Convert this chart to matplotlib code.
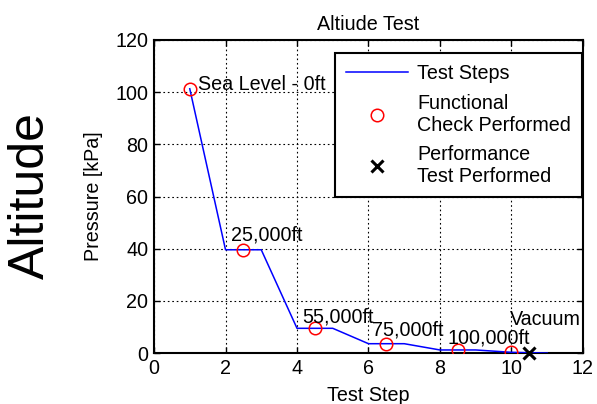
import numpy as np
import matplotlib
matplotlib.use("Agg")
import matplotlib.pyplot as plt

plt.rcParams['font.family'] = ['Liberation Sans', 'DejaVu Sans']

# pressure profile of the test sequence
step = [1, 2, 3, 4, 5, 6, 7, 8, 9, 10, 11]
pressure = [101.3, 39.6, 39.6, 9.5, 9.5, 3.6, 3.6, 1.2, 1.2, 0.3, 0.0]

# functional checks
check_step = [1, 2.5, 4.5, 6.5, 8.5, 10]
check_pressure = [101.3, 39.6, 9.5, 3.6, 1.2, 0.3]

# performance test
perf_step = [10.5]
perf_pressure = [0.0]

labels = ['Sea Level - 0ft', '25,000ft', '55,000ft', '75,000ft', '100,000ft', 'Vacuum']
label_x = [1.24, 2.15, 4.15, 6.1, 8.22, 9.96]
label_y = [101.0, 43.0, 11.6, 6.9, 3.7, 10.7]

fs = 14.2

fig = plt.figure(figsize=(5.97, 4.04), dpi=100)
ax = fig.add_axes([0.258, 0.126, 0.7185, 0.775])

ax.plot(step, pressure, color='blue', lw=1.1, label='Test Steps', zorder=3)
ax.plot(check_step, check_pressure, 'o', mfc='none', mec='red', ms=9, mew=1.1,
        label='Functional\nCheck Performed', zorder=4)
ax.plot(perf_step, perf_pressure, 'x', color='black', ms=9, mew=2.2,
        label='Performance\nTest Performed', zorder=5, clip_on=False)

for t, x, y in zip(labels, label_x, label_y):
    ax.text(x, y, t, fontsize=fs, va='baseline', ha='left', zorder=6)

ax.set_xlim(0, 12)
ax.set_ylim(0, 120)
ax.set_xticks(np.arange(0, 13, 2))
ax.set_yticks(np.arange(0, 121, 20))
ax.grid(True, color='black', linestyle=(0, (1.5, 2.5)), linewidth=0.8)
ax.tick_params(direction='in', top=True, right=True, labelsize=fs, length=4, width=1, pad=4)
for s in ax.spines.values():
    s.set_linewidth(1.5)

ax.set_title('Altiude Test', fontsize=fs, pad=7)
ax.set_xlabel('Test Step', fontsize=fs, labelpad=6)
ax.set_ylabel('Pressure [kPa]', fontsize=fs, labelpad=9)

leg = ax.legend(loc='upper left', bbox_to_anchor=(0.422, 0.959), borderaxespad=0,
                fontsize=fs, fancybox=False, framealpha=1, edgecolor='black',
                handlelength=3.15, labelspacing=0.55, borderpad=0.55, handletextpad=0.45)
leg.get_frame().set_linewidth(1.5)

fig.text(0.052, 0.517, 'Altitude', fontsize=36, rotation=90, ha='center', va='center')

fig.savefig('out.png', dpi=100)
